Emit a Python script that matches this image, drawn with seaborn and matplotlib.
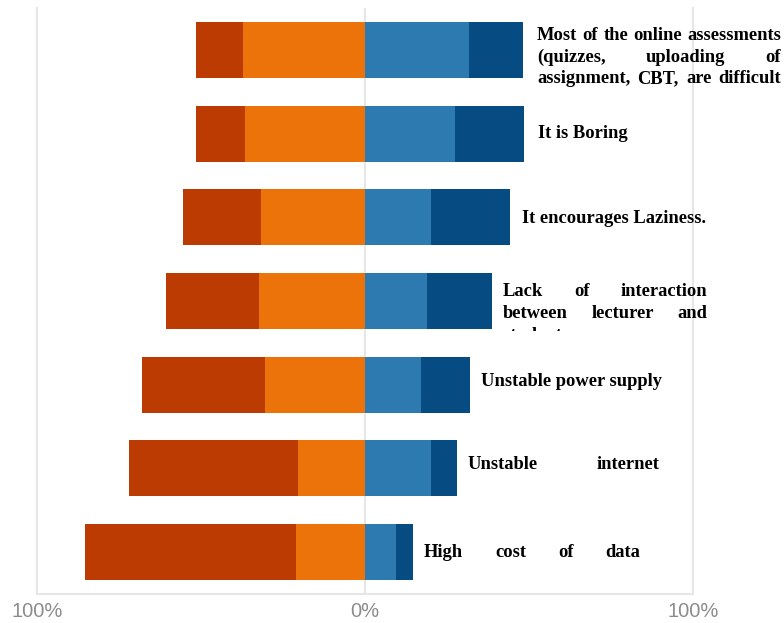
import matplotlib
matplotlib.use("Agg")
import matplotlib.pyplot as plt
import seaborn as sns
import pandas as pd
from matplotlib.transforms import Bbox

# survey items, top to bottom
items = ['assessments', 'boring', 'laziness', 'interaction', 'power', 'internet', 'data']
strongly_disagree = [14.3, 14.9, 24.0, 28.6, 37.7, 51.7, 64.4]
disagree = [37.1, 36.5, 31.6, 32.2, 30.4, 20.4, 21.0]
agree = [31.6, 27.4, 20.1, 18.8, 17.0, 20.1, 9.4]
strongly_agree = [16.7, 21.0, 24.0, 19.8, 14.9, 7.9, 5.2]
tick_values = [-100, 0, 100]
tick_labels = ['100%', '0%', '100%']

# label text, line by line, as it is broken in the picture
label_lines = [
    ['Most of the online assessments', '(quizzes, uploading of', 'assignment, CBT, are difficult'],
    ['It is Boring'],
    ['It encourages Laziness.'],
    ['Lack of interaction', 'between lecturer and', 'students'],
    ['Unstable power supply'],
    ['Unstable internet'],
    ['High cost of data'],
]

df = pd.DataFrame({'item': items, 'sd': strongly_disagree, 'd': disagree,
                   'a': agree, 'sa': strongly_agree})
df['left_all'] = -(df['sd'] + df['d'])
df['left_d'] = -df['d']
df['right_all'] = df['a'] + df['sa']

W, H = 784, 623
fig = plt.figure(figsize=(W / 100, H / 100), dpi=100)
ax = fig.add_axes([37 / W, (H - 594) / H, (693 - 37) / W, (594 - 8) / H])

bw = 0.67
sns.barplot(data=df, x='left_all', y='item', orient='h', color='#BC3B03', saturation=1, width=bw, ax=ax, linewidth=0)
sns.barplot(data=df, x='left_d', y='item', orient='h', color='#EB7309', saturation=1, width=bw, ax=ax, linewidth=0)
sns.barplot(data=df, x='right_all', y='item', orient='h', color='#064B81', saturation=1, width=bw, ax=ax, linewidth=0)
sns.barplot(data=df, x='a', y='item', orient='h', color='#2C7AB0', saturation=1, width=bw, ax=ax, linewidth=0)

ax.set_xlim(-100, 100)
ax.set_ylim(6.5, -0.5)
ax.axvline(0, color='#E6E6E6', lw=1.5, zorder=0)
for s in ['left', 'right', 'bottom']:
    ax.spines[s].set_color('#E6E6E6')
    ax.spines[s].set_linewidth(1.5)
ax.spines['top'].set_visible(False)
ax.set_xticks(tick_values)
ax.set_xticklabels(tick_labels, fontsize=14.5, color='#8C8C8C', family=['Liberation Sans', 'DejaVu Sans'])
ax.tick_params(axis='x', length=0, pad=6)
ax.set_yticks([])
ax.set_xlabel('')
ax.set_ylabel('')

# text layout in pixels: (left x, right x or None for ragged, baseline y)
layout = [
    [(537, 781, 40), (537, 781, 62), (537, 781, 83)],
    [(538, None, 138)],
    [(522, None, 223)],
    [(503, 707, 296), (503, 707, 318), (503, None, 340)],
    [(481, None, 386)],
    [(467, 659, 469)],
    [(424, 640, 557)],
]

tfont = dict(family=['Liberation Serif', 'DejaVu Serif'], fontweight='bold', fontsize=13.3, color='black')
renderer = fig.canvas.get_renderer()
clip = Bbox.from_extents(0, H - 331, W, H)


def put_line(text, x0, x1, yb, clip_it=False):
    words = text.split(' ')
    if x1 is None or len(words) == 1:
        words = [text]
    objs = []
    for w in words:
        t = fig.text(x0 / W, 1 - yb / H, w, va='baseline', ha='left', **tfont)
        objs.append(t)
    if len(objs) > 1:
        widths = [t.get_window_extent(renderer).width for t in objs]
        gap = (x1 - x0 - sum(widths)) / (len(objs) - 1)
        x = x0
        for t, wd in zip(objs, widths):
            t.set_x(x / W)
            x += wd + gap
    if clip_it:
        for t in objs:
            t.set_clip_box(clip)
            t.set_clip_on(True)


for lines, pos in zip(label_lines, layout):
    for i, (line, (x0, x1, yb)) in enumerate(zip(lines, pos)):
        put_line(line, x0, x1, yb, clip_it=(line == 'students'))

fig.savefig('out.png', dpi=100, facecolor='white')
